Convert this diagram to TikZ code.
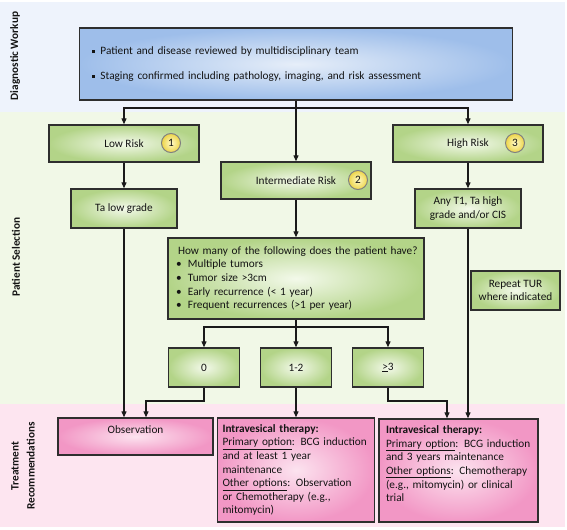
\documentclass[tikz,border=0pt]{standalone}
\usepackage{fontspec}
\setmainfont{Carlito}
\usetikzlibrary{arrows.meta}

\definecolor{bandblue}{HTML}{EEF3FC}
\definecolor{bandgreen}{HTML}{F1F8E7}
\definecolor{bandpink}{HTML}{FDE5F0}
\definecolor{bluein}{HTML}{E6EEF9}
\definecolor{blueout}{HTML}{9EBEEA}
\definecolor{greenin}{HTML}{F3F9EA}
\definecolor{greenout}{HTML}{B3D488}
\definecolor{pinkin}{HTML}{FCE3EF}
\definecolor{pinkout}{HTML}{F297C5}
\definecolor{badgein}{HTML}{FFF9C8}
\definecolor{badgeout}{HTML}{EDD548}
\definecolor{boxline}{HTML}{2E2E2E}
\definecolor{linkcol}{HTML}{1A1A1A}
\definecolor{txt}{HTML}{141414}

\begin{document}
\begin{tikzpicture}[x=1bp,y=-1bp,
    font=\fontsize{11.3}{13.7}\selectfont,
    >={Triangle[length=6bp,width=5bp]},
    box/.style={draw=boxline,line width=1.4bp,inner sep=3bp,text=txt},
    greenbox/.style={box,inner color=greenin,outer color=greenout},
    bluebox/.style={box,inner color=bluein,outer color=blueout},
    pinkbox/.style={box,inner color=pinkin,outer color=pinkout},
    badge/.style={circle,draw=gray,line width=1bp,inner color=badgein,
      outer color=badgeout,minimum size=19bp,inner sep=0pt,text=txt},
    band/.style={font=\fontsize{11.3}{16}\selectfont\bfseries,rotate=90,
      align=center,text=txt},
    link/.style={draw=linkcol,line width=1.2bp}]
  \useasboundingbox (0,0) rectangle (567,530);

  % three bands
  \fill[bandblue] (0,2) rectangle (565,112);
  \fill[bandgreen] (0,112) rectangle (565,404);
  \fill[bandpink] (0,404) rectangle (565,527);
  \node[band] (bdiag) at (15,56) {Diagnostic Workup};
  \node[band] (bsel) at (16,257) {Patient Selection};
  \node[band] (btreat) at (23,466) {Treatment\\Recommendations};

  % workup
  \node[bluebox,minimum width=433bp,minimum height=72bp,text width=407bp,
    inner xsep=13bp,align=left] (diag) at (296,64)
    {\raisebox{1.5bp}{\rule{3bp}{3bp}}\hspace{5bp}Patient and disease reviewed by multidisciplinary team\\[11bp]
     \raisebox{1.5bp}{\rule{3bp}{3bp}}\hspace{5bp}Staging confirmed including pathology, imaging, and risk assessment};

  % risk groups
  \node[greenbox,minimum width=150bp,minimum height=37bp] (low) at (124,143.5) {Low Risk};
  \node[greenbox,minimum width=150bp,minimum height=37bp] (inter) at (296,180.5) {Intermediate Risk};
  \node[greenbox,minimum width=150bp,minimum height=37bp] (high) at (468,143.5) {High Risk};
  \node[badge] (n1) at (171,143) {1};
  \node[badge] (n2) at (358,180) {2};
  \node[badge] (n3) at (515,143) {3};

  \node[greenbox,minimum width=106bp,minimum height=39bp] (ta) at (124,208.5) {Ta low grade};
  \node[greenbox,minimum width=106bp,minimum height=39bp,align=center] (anyt) at (468,208.5)
    {Any T1, Ta high\\grade and/or CIS};
  \node[greenbox,minimum width=89bp,minimum height=39bp,align=center] (tur) at (515.5,290.5)
    {Repeat TUR\\where indicated};

  % intermediate: count of factors
  \node[greenbox,minimum width=256bp,minimum height=81bp,text width=240bp,
    inner xsep=8bp,align=left] (quest) at (296,278.5)
    {\hspace*{2bp}\mbox{How many of the following does the patient have?}\\
     \makebox[12bp][l]{\textbullet}Multiple tumors\\
     \makebox[12bp][l]{\textbullet}Tumor size >3cm\\
     \makebox[12bp][l]{\textbullet}Early recurrence (< 1 year)\\
     \makebox[12bp][l]{\textbullet}Frequent recurrences (>1 per year)};
  \node[greenbox,minimum width=71bp,minimum height=39bp] (b0) at (204,367.5) {0};
  \node[greenbox,minimum width=71bp,minimum height=39bp] (b12) at (296,367.5) {1-2};
  \node[greenbox,minimum width=71bp,minimum height=39bp] (b3) at (388,367.5) {\underline{>}3};

  % treatment
  \node[pinkbox,minimum width=155bp,text height=12bp,text depth=19bp] (obs) at (135.5,436.5) {Observation};
  \node[pinkbox,minimum width=157bp,minimum height=104bp,text width=147bp,
    inner xsep=5bp,align=left] (treatA) at (296,470)
    {\textbf{Intravesical therapy:}\\
     \underline{Primary option}: BCG induction\\
     and at least 1 year\\
     maintenance\\
     \underline{Other options}: Observation\\
     or Chemotherapy (e.g.,\\
     mitomycin)};
  \node[pinkbox,minimum width=159bp,minimum height=103bp,text width=145bp,
    inner xsep=7bp,align=left] (treatB) at (458.5,470.5)
    {\textbf{Intravesical therapy:}\\
     \underline{Primary option}: BCG induction\\
     and 3 years maintenance\\
     \underline{Other options}: Chemotherapy\\
     (e.g., mitomycin) or clinical\\
     trial\\
     \mbox{}};

  % arrows
  \coordinate (top) at (296,108);
  \draw[link] (diag) -- (top);
  \draw[link,->] (top) -| (low);
  \draw[link,->] (top) -- (inter);
  \draw[link,->] (top) -| (high);
  \draw[link,->] (low) -- (ta);
  \draw[link,->] (high) -- (anyt);
  \draw[link,->] (inter) -- (quest);
  \coordinate (mid) at (296,327);
  \draw[link] (quest) -- (mid);
  \draw[link,->] (mid) -| (b0);
  \draw[link,->] (mid) -- (b12);
  \draw[link,->] (mid) -| (b3);
  \draw[link,->] (ta) -- (ta |- obs.north);
  \coordinate (j0) at (146,401);
  \draw[link,->] (b0) |- (j0) -- (j0 |- obs.north);
  \draw[link,->] (b12) -- (treatA);
  \coordinate (j3) at (447,401);
  \draw[link,->] (b3) |- (j3) -- (j3 |- treatB.north);
  \draw[link,->] (anyt) -- (anyt |- treatB.north);
\end{tikzpicture}
\end{document}
